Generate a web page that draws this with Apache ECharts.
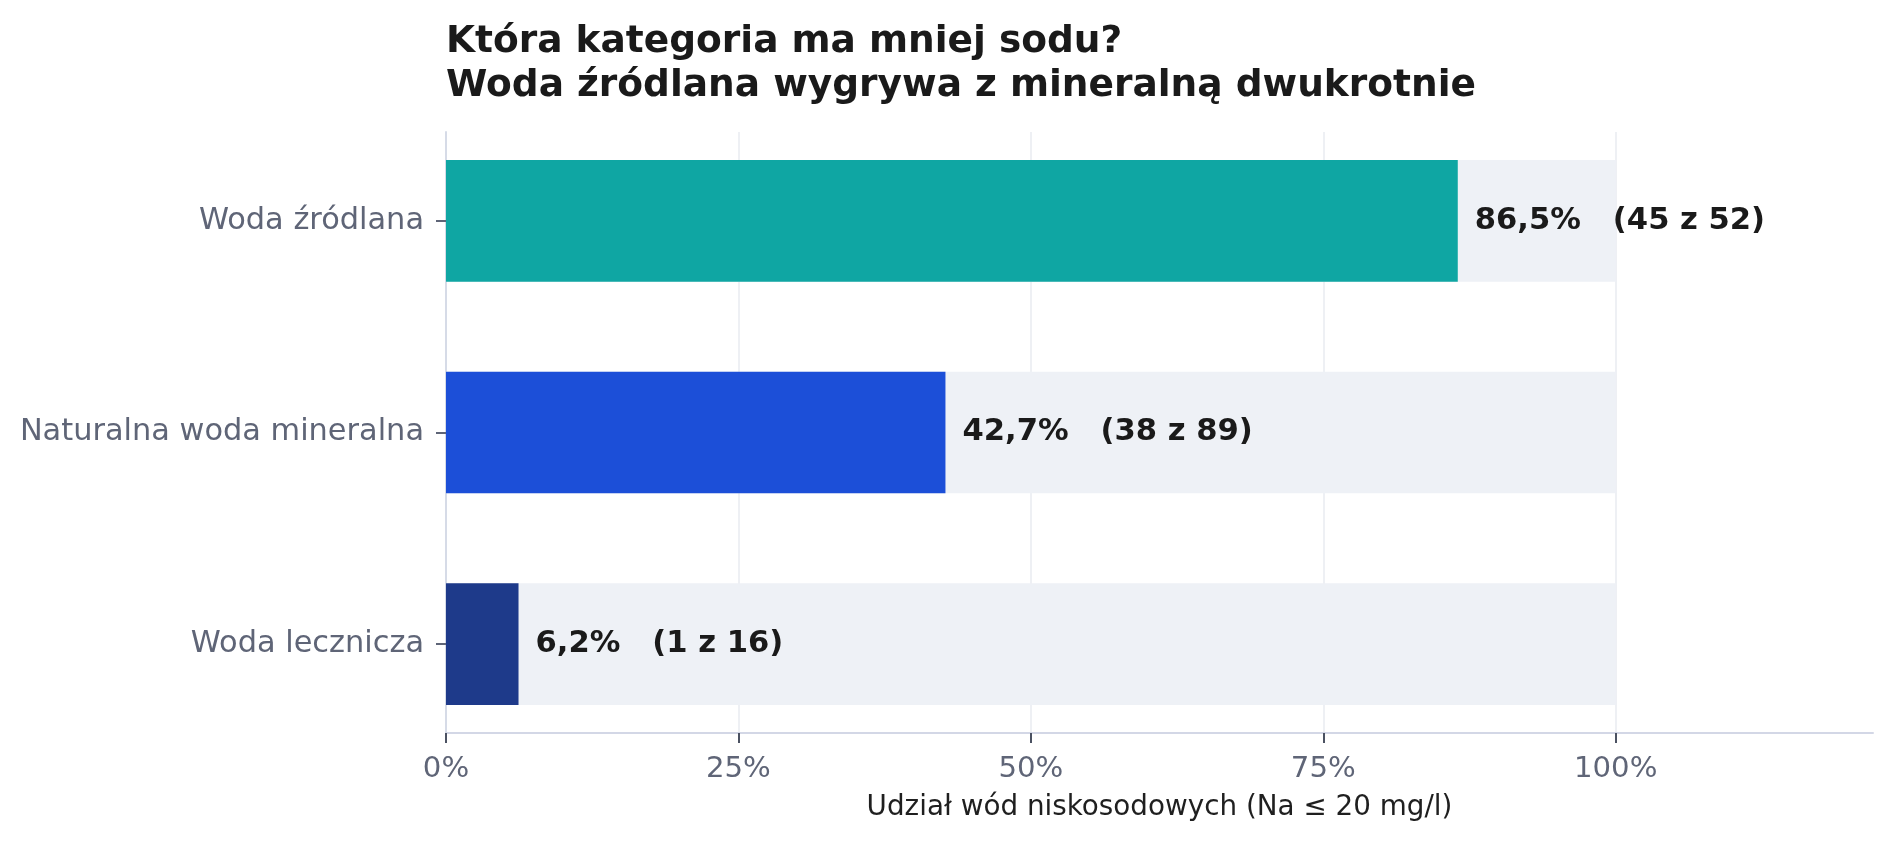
<!DOCTYPE html>
<html>
<head>
<meta charset="utf-8">
<script src="https://cdn.jsdelivr.net/npm/echarts@6/dist/echarts.min.js"></script>
<style>
  html, body { margin: 0; padding: 0; background: #fff; }
  #main { width: 1891px; height: 842px; }
</style>
</head>
<body>
<div id="main"></div>
<script>
// data
const categories = ['Woda źródlana', 'Naturalna woda mineralna', 'Woda lecznicza'];
const shares = [86.5, 42.7, 6.2];
const lowSodium = [45, 38, 1];
const totals = [52, 89, 16];
const fullScale = [100, 100, 100];
const barColors = ['#0fa6a3', '#1c4fd8', '#1e3a8a'];
const xTicks = [0, 25, 50, 75, 100];

const chart = echarts.init(document.getElementById('main'));

const fmtPct = v => v.toFixed(1).replace('.', ',') + '%';

const option = {
  backgroundColor: '#ffffff',
  animation: false,
  textStyle: { fontFamily: 'DejaVu Sans' },
  title: {
    text: 'Która kategoria ma mniej sodu?\nWoda źródlana wygrywa z mineralną dwukrotnie',
    left: 446,
    top: 20,
    padding: 0,
    textStyle: {
      fontFamily: 'DejaVu Sans',
      fontSize: 37.5,
      fontWeight: 'bold',
      lineHeight: 44,
      color: '#1a1a1a'
    }
  },
  grid: [
    // frame: axis lines, ticks, gridlines
    { left: 446, right: 18, top: 132, bottom: 109 },
    // bars
    { left: 446, right: 18, top: 115, bottom: 92 }
  ],
  xAxis: [
    {
      gridIndex: 0,
      type: 'value',
      min: 0,
      max: 122,
      interval: 25,
      name: 'Udział wód niskosodowych (Na ≤ 20 mg/l)',
      nameLocation: 'middle',
      nameGap: 61,
      nameTextStyle: { fontFamily: 'DejaVu Sans', fontSize: 27.8, color: '#1f1f1f' },
      axisLine: { show: true, lineStyle: { color: '#d3d7e6', width: 2 } },
      axisTick: { show: true, length: 10, customValues: xTicks, lineStyle: { color: '#4b5262', width: 2 } },
      axisLabel: {
        customValues: xTicks,
        margin: 22,
        fontSize: 29.2,
        color: '#5f6577',
        formatter: v => v + '%'
      },
      splitLine: { show: true, lineStyle: { color: '#eef0f4', width: 2 } }
    },
    {
      gridIndex: 1,
      type: 'value',
      min: 0,
      max: 122,
      show: false
    }
  ],
  yAxis: [
    {
      gridIndex: 0,
      type: 'value',
      axisLine: { show: true, lineStyle: { color: '#d6dbe7', width: 2 } },
      axisTick: { show: false },
      axisLabel: { show: false },
      splitLine: { show: false }
    },
    {
      gridIndex: 1,
      type: 'category',
      inverse: true,
      data: categories,
      axisLine: { show: false },
      axisTick: { show: true, alignWithLabel: true, length: 10, lineStyle: { color: '#5f6577', width: 2 } },
      axisLabel: { margin: 22, fontSize: 30.4, color: '#5f6577', padding: [9, 0, 0, 0] }
    }
  ],
  series: [
    {
      type: 'bar',
      xAxisIndex: 1,
      yAxisIndex: 1,
      barWidth: '57.5%',
      data: fullScale,
      itemStyle: { color: '#eef1f6' },
      silent: true,
      z: 1
    },
    {
      type: 'bar',
      xAxisIndex: 1,
      yAxisIndex: 1,
      barWidth: '57.5%',
      barGap: '-100%',
      z: 2,
      data: shares.map((v, i) => ({ value: v, itemStyle: { color: barColors[i] } })),
      label: {
        show: true,
        position: 'right',
        distance: 17,
        fontFamily: 'DejaVu Sans',
        fontSize: 30.6,
        fontWeight: 'bold',
        color: '#1a1a1a',
        padding: [9, 0, 0, 0],
        formatter: p => fmtPct(shares[p.dataIndex]) + '   (' + lowSodium[p.dataIndex] + ' z ' + totals[p.dataIndex] + ')'
      }
    }
  ]
};

chart.setOption(option);
</script>
</body>
</html>
